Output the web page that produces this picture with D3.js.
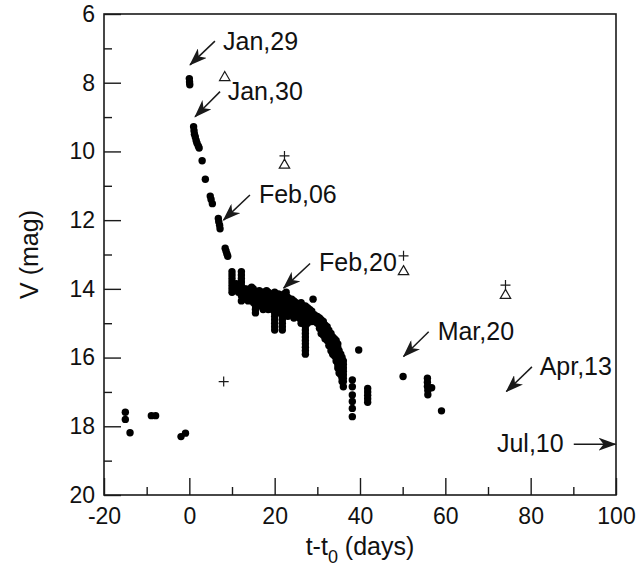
<!DOCTYPE html>
<html>
<head>
<meta charset="utf-8">
<script src="https://cdn.jsdelivr.net/npm/d3@7"></script>
<style>
  html, body { margin: 0; padding: 0; background: #fff; }
  svg { display: block; }
  text { font-family: "Liberation Sans", Arial, Helvetica, sans-serif; fill: #111; }
</style>
</head>
<body>
<svg id="chart" width="639" height="567"></svg>
<script>
// ---------- data ----------
const xTicks = [-20, 0, 20, 40, 60, 80, 100];
const xMinorTicks = [-10, 10, 30, 50, 70, 90];
const yTicks = [6, 8, 10, 12, 14, 16, 18, 20];
const yMinorTicks = [7, 9, 11, 13, 15, 17, 19];

// optical V photometry [t - t0 (days), V (mag)]
const preOutburst = [
  [-15.0, 17.59], [-15.0, 17.80], [-13.9, 18.19], [-8.9, 17.69], [-7.9, 17.69],
  [-1.95, 18.30], [-0.9, 18.20]
];
const earlyDecline = [
  [0.0, 7.88], [0.05, 7.98], [0.1, 8.06],
  [1.0, 9.28], [1.1, 9.40], [1.2, 9.50], [1.4, 9.58], [1.6, 9.68], [1.8, 9.76], [2.1, 9.84], [2.3, 9.90],
  [3.0, 10.27], [3.75, 10.81],
  [4.9, 11.30], [5.1, 11.40], [5.4, 11.52],
  [6.8, 11.95], [6.9, 12.05], [7.1, 12.15], [7.2, 12.25],
  [8.4, 12.82], [8.6, 12.90], [8.8, 12.98], [9.0, 13.05]
];
const plateau = [
  [10.0, 13.5], [10.0, 13.6], [10.0, 13.7], [10.0, 13.8], [10.0, 13.9], [10.0, 14.0], [10.0, 14.1],
  [11.0, 13.85], [11.5, 13.9], [11.5, 14.0], [11.5, 14.1],
  [12.2, 13.5], [12.2, 13.6], [12.2, 13.7], [12.2, 13.8], [12.2, 13.9], [12.2, 14.0], [12.2, 14.1], [12.2, 14.2], [12.2, 14.35],
  [12.9, 14.0], [12.9, 14.1], [12.9, 14.2],
  [13.3, 14.0], [13.3, 14.1], [13.3, 14.2], [13.3, 14.3],
  [13.8, 14.05], [13.8, 14.15], [13.8, 14.25], [13.8, 14.35],
  [14.2, 14.0], [14.2, 14.1], [14.2, 14.2], [14.2, 14.3],
  [14.6, 13.95], [14.6, 14.05], [14.6, 14.15], [14.6, 14.25],
  [15.0, 14.0], [15.0, 14.1], [15.0, 14.2], [15.0, 14.3], [15.0, 14.4],
  [15.5, 14.1], [15.5, 14.2], [15.5, 14.3], [15.5, 14.4], [15.5, 14.5], [15.5, 14.6], [15.5, 14.7],
  [15.9, 14.1], [15.9, 14.2], [15.9, 14.3], [15.9, 14.4], [15.9, 14.5],
  [16.4, 14.05], [16.4, 14.15], [16.4, 14.25], [16.4, 14.35],
  [16.8, 14.1], [16.8, 14.2], [16.8, 14.3], [16.8, 14.4], [16.8, 14.5],
  [17.3, 14.1], [17.3, 14.2], [17.3, 14.3], [17.3, 14.4], [17.3, 14.5], [17.3, 14.6],
  [17.7, 14.1], [17.7, 14.2], [17.7, 14.3], [17.7, 14.4],
  [18.1, 14.05], [18.1, 14.15], [18.1, 14.25], [18.1, 14.35], [18.1, 14.45],
  [18.5, 14.1], [18.5, 14.2], [18.5, 14.3], [18.5, 14.4], [18.5, 14.5], [18.5, 14.6],
  [19.0, 14.2], [19.0, 14.3], [19.0, 14.4], [19.0, 14.5],
  [19.5, 14.15], [19.5, 14.25], [19.5, 14.35], [19.5, 14.45], [19.5, 14.6],
  [20.0, 14.1], [20.0, 14.2], [20.0, 14.3], [20.0, 14.4], [20.0, 14.5], [20.0, 14.6], [20.0, 14.7], [20.0, 14.8], [20.0, 14.9], [20.0, 15.0], [20.0, 15.1], [20.0, 15.2],
  [20.4, 14.2], [20.4, 14.3], [20.4, 14.4], [20.4, 14.5], [20.4, 14.6], [20.4, 14.7],
  [20.9, 14.15], [20.9, 14.25], [20.9, 14.35], [20.9, 14.45], [20.9, 14.55],
  [21.3, 14.2], [21.3, 14.3], [21.3, 14.4], [21.3, 14.5], [21.3, 14.6],
  [21.8, 14.2], [21.8, 14.3], [21.8, 14.4], [21.8, 14.5], [21.8, 14.6], [21.8, 14.7], [21.8, 14.8], [21.8, 14.9], [21.8, 15.0], [21.8, 15.1], [21.8, 15.2],
  [22.2, 14.15], [22.2, 14.25], [22.2, 14.35], [22.2, 14.45], [22.2, 14.55], [22.2, 14.7],
  [22.7, 14.1], [22.7, 14.2], [22.7, 14.3], [22.7, 14.4], [22.7, 14.5], [22.7, 14.6], [22.7, 14.7],
  [23.1, 14.25], [23.1, 14.35], [23.1, 14.45], [23.1, 14.55], [23.1, 14.65], [23.1, 14.8],
  [23.6, 14.3], [23.6, 14.4], [23.6, 14.5], [23.6, 14.6],
  [24.0, 14.3], [24.0, 14.4], [24.0, 14.5], [24.0, 14.6], [24.0, 14.7],
  [24.5, 14.35], [24.5, 14.45], [24.5, 14.55], [24.5, 14.65], [24.5, 14.75], [24.5, 14.85],
  [25.0, 14.4], [25.0, 14.5], [25.0, 14.6], [25.0, 14.7], [25.0, 14.8],
  [25.4, 14.45], [25.4, 14.55], [25.4, 14.65],
  [25.8, 14.45], [25.8, 14.55], [25.8, 14.65], [25.8, 14.75], [25.8, 14.85],
  [26.2, 14.4], [26.2, 14.5], [26.2, 14.6], [26.2, 14.7], [26.2, 14.8], [26.2, 14.9], [26.2, 15.0],
  [26.7, 14.5], [26.7, 14.6], [26.7, 14.7], [26.7, 14.8], [26.7, 14.9],
  [27.2, 14.5], [27.2, 14.6], [27.2, 14.7], [27.2, 14.8], [27.2, 14.9], [27.2, 15.0], [27.2, 15.1], [27.2, 15.2],
  [27.2, 15.3], [27.2, 15.4], [27.2, 15.5], [27.2, 15.6], [27.2, 15.7], [27.2, 15.8], [27.2, 15.9],
  [27.7, 14.55], [27.7, 14.65], [27.7, 14.75], [27.7, 14.85], [27.7, 15.0],
  [28.2, 14.6], [28.2, 14.7], [28.2, 14.8], [28.2, 14.9],
  [28.7, 14.65], [28.7, 14.75], [28.7, 14.85], [28.7, 14.95],
  [29.0, 14.3],
  [29.3, 14.75], [29.3, 14.85], [29.3, 14.95]
];
const lateDecline = [
  [30.0, 14.8], [30.0, 14.9], [30.0, 15.0],
  [30.5, 14.85], [30.5, 14.95], [30.5, 15.05], [30.5, 15.15],
  [30.9, 14.9], [30.9, 15.0], [30.9, 15.1], [30.9, 15.2], [30.9, 15.3],
  [31.4, 14.95], [31.4, 15.05], [31.4, 15.15], [31.4, 15.25], [31.4, 15.35],
  [31.8, 15.05], [31.8, 15.15], [31.8, 15.25], [31.8, 15.35], [31.8, 15.45],
  [32.3, 15.1], [32.3, 15.2], [32.3, 15.3], [32.3, 15.4], [32.3, 15.5],
  [32.7, 15.2], [32.7, 15.3], [32.7, 15.4], [32.7, 15.5], [32.7, 15.65],
  [33.2, 15.3], [33.2, 15.4], [33.2, 15.5], [33.2, 15.6], [33.2, 15.7], [33.2, 15.8],
  [33.6, 15.4], [33.6, 15.5], [33.6, 15.6], [33.6, 15.7], [33.6, 15.8], [33.6, 15.9],
  [34.0, 15.45], [34.0, 15.55], [34.0, 15.65], [34.0, 15.75], [34.0, 15.85], [34.0, 15.95],
  [34.4, 15.5], [34.4, 15.6], [34.4, 15.7], [34.4, 15.8], [34.4, 15.9], [34.4, 16.0], [34.4, 16.1],
  [34.8, 15.6], [34.8, 15.7], [34.8, 15.8], [34.8, 15.9], [34.8, 16.0], [34.8, 16.1], [34.8, 16.2], [34.8, 16.3],
  [35.1, 15.8], [35.1, 15.9], [35.1, 16.0], [35.1, 16.1], [35.1, 16.2], [35.1, 16.3], [35.1, 16.45],
  [35.5, 15.9], [35.5, 16.0], [35.5, 16.1], [35.5, 16.2], [35.5, 16.3], [35.5, 16.4], [35.5, 16.5],
  [35.8, 16.0], [35.8, 16.1], [35.8, 16.2], [35.8, 16.3], [35.8, 16.4], [35.8, 16.5], [35.8, 16.6], [35.8, 16.7],
  [36.1, 16.1], [36.1, 16.2], [36.1, 16.3], [36.1, 16.4], [36.1, 16.5], [36.1, 16.6], [36.1, 16.7], [36.1, 16.85],
  [38.2, 16.65], [38.2, 16.85], [38.2, 17.09], [38.2, 17.28], [38.2, 17.48], [38.2, 17.72],
  [39.7, 15.78],
  [41.8, 16.9], [41.8, 17.0], [41.8, 17.1], [41.8, 17.2], [41.8, 17.3],
  [50.1, 16.55],
  [55.8, 16.6], [55.8, 16.72], [55.8, 16.84], [55.9, 16.96], [55.9, 17.08], [56.8, 16.88],
  [59.1, 17.55]
];
// other bands (open triangles and plus signs)
const triangleObs = [[8.3, 7.82], [22.3, 10.37], [50.2, 13.47], [74.1, 14.16]];
const plusObs = [[22.3, 10.13], [50.2, 13.04], [74.1, 13.89], [8.05, 16.70]];

// date annotations: label, text anchor point, arrow tail, arrow tip (data coords)
const annoLabels = ["Jan,29", "Jan,30", "Feb,06", "Feb,20", "Mar,20", "Apr,13", "Jul,10"];
const annoText = [[7.9, 7.05], [9.0, 8.50], [16.3, 11.50], [30.4, 13.48], [58.2, 15.49], [82.1, 16.51], [72.1, 18.76]];
const annoTail = [[6.0, 6.79], [7.2, 8.26], [14.2, 11.27], [28.3, 13.26], [56.1, 15.25], [80.3, 16.27], [90.1, 18.52]];
const annoTip  = [[0.16, 7.48], [1.34, 8.99], [8.0, 12.0], [22.1, 13.98], [50.2, 15.97], [74.3, 16.99], [99.9, 18.52]];

// ---------- layout ----------
const W = 639, H = 567;
const m = { left: 104, right: 23, top: 14, bottom: 72 };
const svg = d3.select("#chart");
const x = d3.scaleLinear().domain([-20, 100]).range([m.left, W - m.right]);
const y = d3.scaleLinear().domain([6, 20]).range([m.top, H - m.bottom]);
const ink = "#1a1a1a";

// defs: arrowhead
svg.append("defs").append("marker")
  .attr("id", "arr").attr("markerUnits", "userSpaceOnUse")
  .attr("viewBox", "0 0 18 13").attr("markerWidth", 18).attr("markerHeight", 13)
  .attr("refX", 17).attr("refY", 6.5).attr("orient", "auto")
  .append("path").attr("d", "M0,0 L18,6.5 L0,13 L5,6.5 Z").attr("fill", ink);

// axes
const fmt = d => String(d);
const xAxis = d3.axisBottom(x).tickValues(xTicks).tickSizeInner(-17).tickSizeOuter(0).tickPadding(13).tickFormat(fmt);
const xMinor = d3.axisBottom(x).tickValues(xMinorTicks).tickSizeInner(-8).tickSizeOuter(0).tickFormat("");
const yAxis = d3.axisLeft(y).tickValues(yTicks).tickSizeInner(-17).tickSizeOuter(0).tickPadding(9).tickFormat(fmt);
const yMinor = d3.axisLeft(y).tickValues(yMinorTicks).tickSizeInner(-8).tickSizeOuter(0).tickFormat("");

function styleAxis(g) {
  g.select(".domain").remove();
  g.selectAll("line").attr("stroke", ink).attr("stroke-width", 1.4);
  g.selectAll("text").attr("font-size", 23).attr("fill", ink)
    .attr("font-family", '"Liberation Sans", Arial, Helvetica, sans-serif');
}
svg.append("g").attr("transform", `translate(0,${y(20)})`).call(xAxis).call(styleAxis);
svg.append("g").attr("transform", `translate(0,${y(20)})`).call(xMinor).call(styleAxis);
svg.append("g").attr("transform", `translate(${x(-20)},0)`).call(yAxis).call(styleAxis);
svg.append("g").attr("transform", `translate(${x(-20)},0)`).call(yMinor).call(styleAxis);

// frame
svg.append("rect")
  .attr("x", x(-20)).attr("y", y(6))
  .attr("width", x(100) - x(-20)).attr("height", y(20) - y(6))
  .attr("fill", "none").attr("stroke", ink).attr("stroke-width", 1.6);

// axis titles
svg.append("text")
  .attr("transform", `translate(38,${(y(6) + y(20)) / 2}) rotate(-90)`)
  .attr("text-anchor", "middle").attr("font-size", 25).text("V (mag)");

const xt = svg.append("text")
  .attr("x", (x(-20) + x(100)) / 2).attr("y", 555)
  .attr("text-anchor", "middle").attr("font-size", 25);
xt.append("tspan").text("t-t");
xt.append("tspan").attr("font-size", 18).attr("dy", 8).text("0");
xt.append("tspan").attr("dy", -8).text(" (days)");

// data points
const allDots = preOutburst.concat(earlyDecline, plateau, lateDecline);
svg.append("g").selectAll("circle").data(allDots).join("circle")
  .attr("cx", d => x(d[0])).attr("cy", d => y(d[1])).attr("r", 3.7).attr("fill", "#000");

// triangles
svg.append("g").selectAll("path").data(triangleObs).join("path")
  .attr("transform", d => `translate(${x(d[0])},${y(d[1])})`)
  .attr("d", "M0,-5 L5.2,4 L-5.2,4 Z")
  .attr("fill", "none").attr("stroke", ink).attr("stroke-width", 1.2);

// pluses
svg.append("g").selectAll("path").data(plusObs).join("path")
  .attr("transform", d => `translate(${x(d[0])},${y(d[1])})`)
  .attr("d", "M-5,0 H5 M0,-5 V5")
  .attr("fill", "none").attr("stroke", ink).attr("stroke-width", 1.2);

// annotations
const ann = annoLabels.map((t, i) => ({ t, p: annoText[i], a: annoTail[i], b: annoTip[i] }));
const ag = svg.append("g");
ag.selectAll("line").data(ann).join("line")
  .attr("x1", d => x(d.a[0])).attr("y1", d => y(d.a[1]))
  .attr("x2", d => x(d.b[0])).attr("y2", d => y(d.b[1]))
  .attr("stroke", ink).attr("stroke-width", 1.5).attr("marker-end", "url(#arr)");
ag.selectAll("text").data(ann).join("text")
  .attr("x", d => x(d.p[0])).attr("y", d => y(d.p[1]))
  .attr("font-size", 25).text(d => d.t);
</script>
</body>
</html>
